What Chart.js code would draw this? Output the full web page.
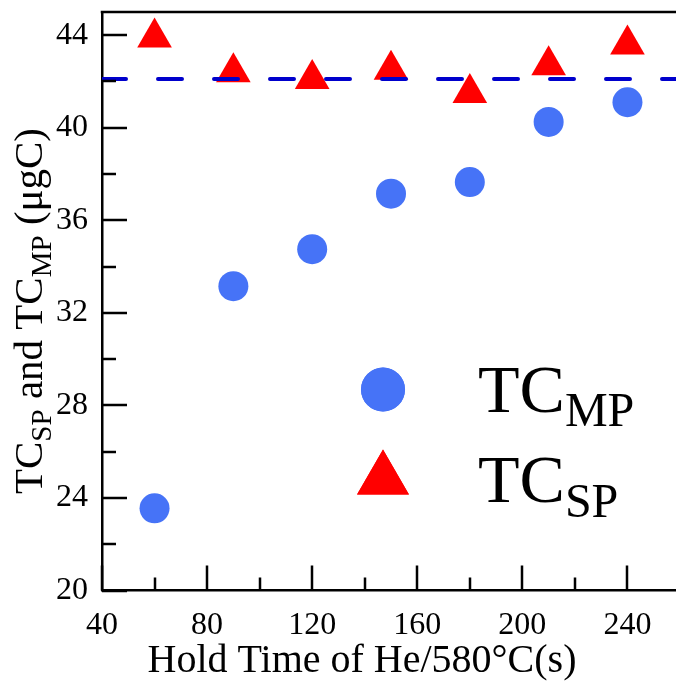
<!DOCTYPE html>
<html>
<head>
<meta charset="utf-8">
<script src="https://cdn.jsdelivr.net/npm/chart.js@4.4.1/dist/chart.umd.min.js"></script>
<style>
    html, body { margin: 0; padding: 0; background: #fff; overflow: hidden; }
</style>
</head>
<body>
<canvas id="myChart" width="684" height="690"></canvas>
<script>
    //data
    const holdTimes = [60, 90, 120, 150, 180, 210, 240]
    const tcMP = [23.55, 33.15, 34.75, 37.15, 37.65, 40.25, 41.1]
    const tcSP = [43.9, 42.4, 42.1, 42.5, 41.5, 42.7, 43.6]
    const refX = [40, 260]
    const refY = [42.1, 42.1]
    const xTicks = [40, 80, 120, 160, 200, 240]
    const yTicks = [20, 24, 28, 32, 36, 40, 44]

    const FONT = '"Liberation Serif", "Times New Roman", serif'
    const blue = '#4673f7'
    const red = '#ff0000'

    //text with subscripts: parts = [[text, isSub], ...]
    function partsWidth(ctx, parts, size, subSize){
        let w = 0
        parts.forEach(([t, sub]) => {
            ctx.font = `${sub ? subSize : size}px ${FONT}`
            w += ctx.measureText(t).width
        })
        return w
    }

    function drawParts(ctx, parts, x, y, size, subSize, drop){
        let cx = x
        parts.forEach(([t, sub]) => {
            ctx.font = `${sub ? subSize : size}px ${FONT}`
            ctx.fillText(t, cx, sub ? y + drop : y)
            cx += ctx.measureText(t).width
        })
    }

    const extras = {
        id: 'extras',
        afterDraw(chart){
            const {ctx, chartArea: a, scales: {x, y}} = chart
            ctx.save()
            ctx.strokeStyle = '#000'
            ctx.lineWidth = 2.5

            //top frame
            ctx.beginPath()
            ctx.moveTo(a.left - 1.25, a.top)
            ctx.lineTo(a.right + 4, a.top)
            ctx.stroke()

            //inward ticks
            ctx.beginPath()
            for (let v = xTicks[0]; v <= 260; v += 20) {
                const px = Math.round(x.getPixelForValue(v))
                const len = xTicks.includes(v) ? 25 : 13
                ctx.moveTo(px, a.bottom)
                ctx.lineTo(px, a.bottom - len)
            }
            for (let v = yTicks[0]; v <= 44; v += 2) {
                const py = Math.round(y.getPixelForValue(v))
                const len = yTicks.includes(v) ? 25 : 14
                ctx.moveTo(a.left, py)
                ctx.lineTo(a.left + len, py)
            }
            ctx.stroke()

            ctx.fillStyle = '#000'
            ctx.textBaseline = 'alphabetic'

            //x title
            ctx.font = `40px ${FONT}`
            ctx.textAlign = 'center'
            ctx.fillText('Hold Time of He/580°C(s)', 362, 672)

            //y title
            ctx.textAlign = 'left'
            const yParts = [['TC', false], ['SP', true], [' and TC', false], ['MP', true], [' (μgC)', false]]
            const yw = partsWidth(ctx, yParts, 41, 29)
            ctx.save()
            ctx.translate(42, 311)
            ctx.rotate(-Math.PI / 2)
            drawParts(ctx, yParts, -yw / 2, 0, 41, 29, 9)
            ctx.restore()

            //legend
            ctx.fillStyle = blue
            Chart.helpers.drawPoint(ctx, {pointStyle: 'circle', radius: 22, borderWidth: 0}, 383, 389.5)
            ctx.fill()
            ctx.fillStyle = red
            Chart.helpers.drawPoint(ctx, {pointStyle: 'triangle', radius: 30, borderWidth: 0}, 383, 479.5)
            ctx.fill()

            ctx.fillStyle = '#000'
            drawParts(ctx, [['TC', false], ['MP', true]], 478, 411.5, 68, 48, 14.5)
            drawParts(ctx, [['TC', false], ['SP', true]], 478, 501.5, 68, 48, 15)

            ctx.restore()
        }
    }

    const data = {
        datasets: [{
            label: 'ref',
            data: refX.map((v, i) => ({x: v, y: refY[i]})),
            showLine: true,
            borderColor: '#0000cc',
            borderWidth: 4,
            borderDash: [24, 32],
            borderCapStyle: 'round',
            pointRadius: 0,
            order: 0
        },
        {
            label: 'TC SP',
            data: holdTimes.map((v, i) => ({x: v, y: tcSP[i]})),
            pointStyle: 'triangle',
            pointRadius: 20,
            backgroundColor: red,
            borderWidth: 0,
            order: 1
        },
        {
            label: 'TC MP',
            data: holdTimes.map((v, i) => ({x: v, y: tcMP[i]})),
            pointStyle: 'circle',
            pointRadius: 15,
            backgroundColor: blue,
            borderWidth: 0,
            order: 2
        }]
    }

    const config = {
        type: 'scatter',
        data: data,
        options: {
            responsive: false,
            animation: false,
            events: [],
            layout: {autoPadding: false, padding: {top: 12, right: 4, left: 0, bottom: 0}},
            plugins: {legend: {display: false}, tooltip: {enabled: false}},
            scales: {
                x: {
                    type: 'linear',
                    min: 40,
                    max: 260,
                    afterFit: s => { s.height = 99.5; s.paddingLeft = 0; s.paddingRight = 0 },
                    border: {color: '#000', width: 2.5},
                    grid: {display: false, drawTicks: false},
                    ticks: {
                        stepSize: 40,
                        includeBounds: false,
                        autoSkip: false,
                        maxRotation: 0,
                        padding: 16,
                        color: '#000',
                        font: {family: FONT, size: 32},
                        callback: v => xTicks.includes(v) ? v : ''
                    }
                },
                y: {
                    min: 20,
                    max: 45,
                    afterFit: s => { s.width = 102; s.paddingTop = 0; s.paddingBottom = 0 },
                    border: {color: '#000', width: 2.5},
                    grid: {display: false, drawTicks: false},
                    ticks: {
                        stepSize: 4,
                        includeBounds: false,
                        autoSkip: false,
                        padding: 14,
                        color: '#000',
                        font: {family: FONT, size: 32},
                        callback: v => yTicks.includes(v) ? v : ''
                    }
                }
            }
        },
        plugins: [extras]
    }

    const myChart = new Chart(document.getElementById('myChart'), config)
</script>
</body>
</html>
